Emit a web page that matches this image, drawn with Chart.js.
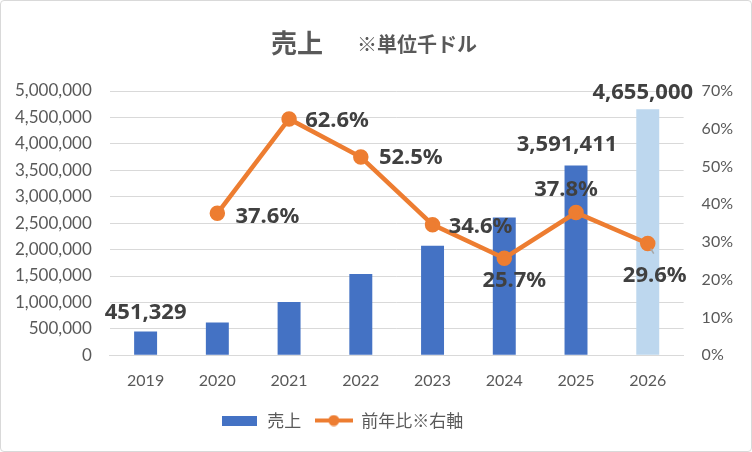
<!DOCTYPE html>
<html>
<head>
<meta charset="utf-8">
<script src="https://cdn.jsdelivr.net/npm/chart.js@4.4.1/dist/chart.umd.min.js"></script>
<style>
    html, body { margin: 0; padding: 0; background: #fff; }
    #wrap { width: 750px; height: 450px; border: 1px solid #d9d9d9; border-radius: 4px; }
</style>
</head>
<body>
<div id="wrap"><canvas id="sales-chart" width="750" height="450"></canvas></div>
<script>
// Chart data
const years = ['2019', '2020', '2021', '2022', '2023', '2024', '2025', '2026'];
const sales = [451329, 621029, 1009793, 1539934, 2072751, 2605448, 3591411, 4655000]; // 千ドル
const growth = [null, 37.6, 62.6, 52.5, 34.6, 25.7, 37.8, 29.6]; // 前年比 %
const salesTicks = [0, 5000000, 500000]; // min, max, step
const growthTicks = [0, 70, 10];

// Which bars get a value label, and where the labels sit relative to their mark
const barLabelIndexes = [0, 6, 7];
const barLabelOffsets = { 0: [0, -19], 6: [-9, -21], 7: [-5, -17] };
const lineLabelOffsets = [null, [50, 3], [48, 2], [50, 1], [48, 2], [10, 22], [-10, -23], [7, 32]];

const BLUE = '#4472C4';
const LIGHT_BLUE = '#BDD7EE';
const ORANGE = '#ED7D31';
const GREY_TEXT = '#595959';
const GRID = '#d9d9d9';

// Small canvases used as legend markers
const makeIcon = (w, h, draw) => {
    const c = document.createElement('canvas');
    c.width = w;
    c.height = h;
    draw(c.getContext('2d'));
    return c;
};
const barIcon = makeIcon(35, 10, ctx => {
    ctx.fillStyle = BLUE;
    ctx.fillRect(0, 0, 35, 10);
});
const lineIcon = makeIcon(38, 12, ctx => {
    ctx.strokeStyle = ORANGE;
    ctx.lineWidth = 4;
    ctx.beginPath();
    ctx.moveTo(0, 6);
    ctx.lineTo(38, 6);
    ctx.stroke();
    ctx.fillStyle = ORANGE;
    ctx.beginPath();
    ctx.arc(19, 6, 5.5, 0, Math.PI * 2);
    ctx.fill();
});

// Two-part title: big 売上 plus smaller unit note
const titlePlugin = {
    id: 'twoPartTitle',
    afterDraw(chart) {
        const ctx = chart.ctx;
        ctx.save();
        ctx.fillStyle = GREY_TEXT;
        ctx.textBaseline = 'middle';
        const mainFont = 'bold 26px "Noto Sans CJK JP"';
        const subFont = 'bold 20px "Noto Sans CJK JP"';
        ctx.font = mainFont;
        const w1 = ctx.measureText('売上').width;
        ctx.font = subFont;
        const w2 = ctx.measureText('※単位千ドル').width;
        const gap = 34;
        let x = chart.width / 2 - (w1 + gap + w2) / 2 - 2;
        ctx.font = mainFont;
        ctx.fillText('売上', x, 42);
        ctx.font = subFont;
        ctx.fillText('※単位千ドル', x + w1 + gap, 43);
        ctx.restore();
    }
};

// The legend sits a little left of centre in the original
const legendShift = {
    id: 'legendShift',
    afterLayout(chart) {
        chart.legend.left -= 32;
        chart.legend.right -= 32;
    }
};

// Value labels on selected bars and on every line point
const valueLabelPlugin = {
    id: 'valueLabels',
    afterDatasetsDraw(chart) {
        const ctx = chart.ctx;
        ctx.save();
        ctx.font = 'bold 22px "Noto Sans"';
        ctx.fillStyle = '#404040';
        ctx.textAlign = 'center';
        ctx.textBaseline = 'middle';

        const bars = chart.getDatasetMeta(0).data;
        barLabelIndexes.forEach(i => {
            const [dx, dy] = barLabelOffsets[i];
            ctx.fillText(sales[i].toLocaleString('en-US'), bars[i].x + dx, bars[i].y + dy);
        });

        const points = chart.getDatasetMeta(1).data;
        growth.forEach((v, i) => {
            if (v === null) return;
            const [dx, dy] = lineLabelOffsets[i];
            ctx.fillText(v.toFixed(1) + '%', points[i].x + dx, points[i].y + dy);
        });

        // short grey leader from the last point to its label
        const last = points[points.length - 1];
        ctx.strokeStyle = '#a6a6a6';
        ctx.lineWidth = 1.5;
        ctx.beginPath();
        ctx.moveTo(last.x + 3, last.y + 5);
        ctx.lineTo(last.x + 6, last.y + 10);
        ctx.stroke();
        ctx.restore();
    }
};

const ctx = document.getElementById('sales-chart').getContext('2d');
new Chart(ctx, {
    type: 'bar',
    data: {
        labels: years,
        datasets: [{
            type: 'bar',
            label: '売上',
            data: sales,
            backgroundColor: years.map((y, i) => i === years.length - 1 ? LIGHT_BLUE : BLUE),
            barPercentage: 0.32,
            categoryPercentage: 1,
            yAxisID: 'y',
            order: 1,
        }, {
            type: 'line',
            label: '前年比※右軸',
            data: growth,
            borderColor: ORANGE,
            backgroundColor: ORANGE,
            borderWidth: 4.5,
            pointRadius: 5.5,
            pointHoverRadius: 5.5,
            tension: 0,
            yAxisID: 'y1',
            order: 0,
        }],
    },
    options: {
        responsive: false,
        animation: false,
        devicePixelRatio: 1,
        layout: {
            padding: { top: 90, left: -4, right: 0, bottom: 12 },
        },
        plugins: {
            tooltip: { enabled: false },
            legend: {
                position: 'bottom',
                labels: {
                    usePointStyle: true,
                    pointStyleWidth: 38,
                    padding: 13.5,
                    color: GREY_TEXT,
                    font: { family: '"Noto Sans CJK JP"', size: 17 },
                    sort: (a, b) => a.datasetIndex - b.datasetIndex,
                    generateLabels(chart) {
                        const items = Chart.defaults.plugins.legend.labels.generateLabels(chart);
                        items.forEach(item => {
                            item.pointStyle = item.datasetIndex === 0 ? barIcon : lineIcon;
                        });
                        return items;
                    },
                },
            },
        },
        scales: {
            x: {
                grid: { display: false },
                border: { display: true, color: GRID },
                ticks: {
                    color: GREY_TEXT,
                    padding: 8,
                    font: { family: 'Lato', size: 16 },
                },
            },
            y: {
                position: 'left',
                min: salesTicks[0],
                max: salesTicks[1],
                grid: { color: GRID, drawTicks: false },
                border: { display: false },
                ticks: {
                    stepSize: salesTicks[2],
                    color: GREY_TEXT,
                    padding: 18,
                    font: { family: 'Lato', size: 17 },
                    callback: v => v.toLocaleString('en-US'),
                },
            },
            y1: {
                position: 'right',
                min: growthTicks[0],
                max: growthTicks[1],
                grid: { display: false, drawTicks: false },
                border: { display: false },
                ticks: {
                    stepSize: growthTicks[2],
                    color: GREY_TEXT,
                    padding: 18,
                    font: { family: 'Lato', size: 16 },
                    callback: v => v + '%',
                },
            },
        },
    },
    plugins: [titlePlugin, legendShift, valueLabelPlugin],
});
</script>
</body>
</html>
